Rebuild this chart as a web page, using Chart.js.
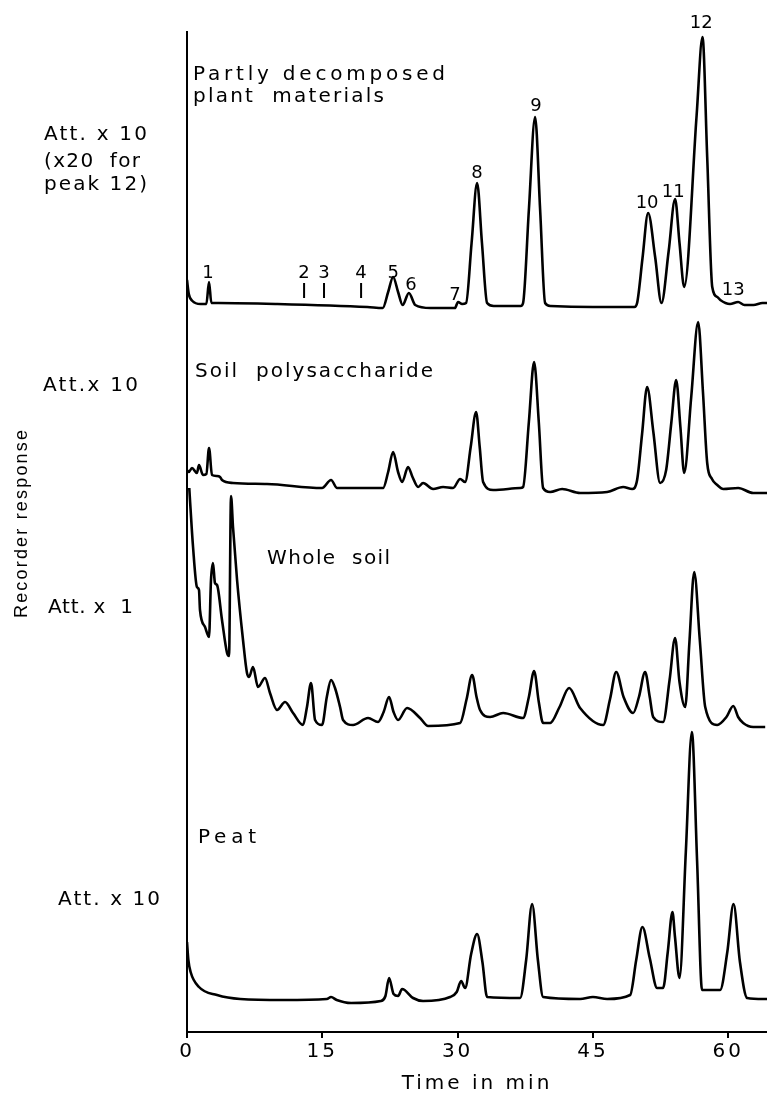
<!DOCTYPE html>
<html>
<head>
<meta charset="utf-8">
<script src="https://cdn.jsdelivr.net/npm/chart.js@4/dist/chart.umd.min.js"></script>
<style>
  body { margin: 0; background: #fff; }
  canvas { display: block; }
</style>
</head>
<body>
<canvas id="chart" width="767" height="1094"></canvas>
<script>
// time axis (min) and recorder response
var plantTime = [0, 0.2, 0.6, 1.5, 2.15, 2.44, 2.7, 3.5, 10, 20, 21.7, 22.3, 22.85, 23.4, 23.9, 24.6, 25.3, 27, 29.7, 30.05, 30.5, 30.94, 31.55, 32.16, 32.7, 33.27, 34, 37.0, 37.26, 37.9, 38.59, 39.15, 39.7, 40.3, 45, 49.6, 49.9, 50.5, 51.12, 51.9, 52.6, 53.4, 54.11, 54.6, 55.12, 56.5, 57.15, 57.67, 58.23, 58.8, 59.12, 60.2, 61.1, 61.8, 62.8, 63.8, 64.3];
var plantResp = [752, 738, 731, 728, 728, 750, 729, 729, 728, 725, 724, 740, 755, 740, 727, 739, 727, 724, 724, 730, 728, 729, 789, 849, 789, 729, 726, 726, 729, 822, 915, 822, 729, 726, 725, 725, 729, 774, 819, 775, 729, 781, 833, 789, 745, 917, 995, 875, 745, 735, 732, 728, 730, 727, 727, 729, 729];

var soilPsTime = [0, 0.2, 0.55, 1.1, 1.33, 1.77, 2.15, 2.44, 2.77, 3.3, 3.66, 3.88, 5.1, 8.87, 14.97, 15.97, 16.64, 21.74, 22.3, 22.85, 23.4, 23.85, 24.51, 25.0, 25.62, 26.17, 27.28, 28.39, 29.5, 30.28, 30.83, 31.45, 32.05, 32.45, 32.83, 33.94, 36.93, 37.26, 37.9, 38.48, 39.0, 39.48, 40.26, 41.59, 43.58, 46.58, 48.35, 49.35, 49.9, 50.45, 51.01, 51.7, 52.45, 53.12, 53.7, 54.23, 54.7, 55.12, 55.9, 56.67, 57.2, 57.67, 58.2, 58.78, 59.45, 61.11, 62.77, 64.3];
var soilPsResp = [562, 560, 564, 559, 567, 557, 558, 584, 557, 556, 555, 552, 549, 548, 544, 552, 544, 544, 560, 580, 560, 550, 565, 555, 545, 549, 543, 545, 544, 553, 550, 585, 620, 585, 550, 542, 544, 545, 610, 670, 610, 544, 540, 543, 539, 540, 545, 543, 552, 598, 645, 600, 549, 562, 610, 652, 605, 559, 635, 710, 640, 569, 553, 547, 543, 544, 539, 539];

var wholeTime = [0.25, 0.67, 1.1, 1.33, 1.44, 2.0, 2.44, 2.66, 2.88, 3.1, 3.33, 3.88, 4.44, 4.66, 4.88, 5.1, 5.55, 6.21, 6.65, 6.88, 7.32, 7.87, 8.65, 9.2, 9.98, 10.87, 11.76, 12.86, 13.3, 13.75, 14.2, 14.97, 15.5, 15.97, 16.41, 16.97, 17.3, 18.41, 20.07, 21.18, 21.8, 22.4, 22.9, 23.4, 24.4, 25.84, 26.73, 30.28, 31.0, 31.61, 32.1, 32.49, 33.6, 35.05, 37.26, 37.9, 38.48, 39.0, 39.48, 40.26, 41.3, 42.36, 43.58, 46.14, 46.9, 47.58, 48.4, 49.46, 50.1, 50.79, 51.3, 51.68, 52.78, 53.5, 54.11, 54.6, 55.23, 55.7, 56.23, 56.85, 57.45, 58.78, 59.8, 60.56, 61.1, 61.66, 62.77, 64.1];
var wholeResp = [544, 485, 445, 442, 422, 405, 395, 452, 469, 449, 447, 412, 379, 376, 536, 505, 452, 392, 359, 355, 365, 345, 354, 339, 322, 330, 319, 307, 325, 349, 312, 307, 335, 352, 344, 325, 312, 307, 314, 310, 320, 335, 320, 312, 324, 314, 306, 309, 333, 357, 335, 322, 315, 319, 314, 335, 361, 330, 309, 309, 325, 344, 324, 307, 333, 360, 335, 319, 335, 360, 335, 315, 310, 352, 394, 350, 325, 390, 460, 392, 325, 307, 315, 326, 315, 309, 305, 305];

var peatTime = [0, 0.15, 0.4, 1.33, 3.33, 5.9, 10.7, 15.5, 15.97, 16.6, 18.2, 21.5, 22.0, 22.4, 22.9, 23.4, 23.85, 25.06, 26.17, 29.17, 29.9, 30.39, 30.83, 31.5, 32.16, 32.75, 33.27, 36.93, 37.6, 38.26, 38.9, 39.48, 43.58, 45.0, 46.58, 49.13, 49.8, 50.49, 51.3, 52.12, 52.78, 53.3, 53.82, 54.1, 54.6, 55.3, 55.97, 56.55, 57.1, 59.1, 59.9, 60.59, 61.3, 62.1, 63.88, 64.3];
var peatResp = [90, 72, 60, 45, 37, 33, 32, 33, 35, 32, 29, 31, 36, 54, 38, 36, 43, 34, 31, 35, 40, 51, 44, 78, 98, 70, 35, 34, 72, 128, 72, 35, 33, 35, 33, 37, 72, 105, 74, 44, 44, 80, 120, 95, 54, 180, 300, 171, 42, 42, 80, 128, 70, 34, 33, 33];

// peak numbers on the top trace, and where the small markers 2,3,4 sit
var peakNames = ['1', '2', '3', '4', '5', '6', '7', '8', '9', '10', '11', '12', '13'];
var peakTimes = [2.33, 12.98, 15.19, 19.3, 22.85, 24.84, 29.72, 32.16, 38.7, 51.01, 53.9, 57.0, 60.55];
var markerTimes = [12.98, 15.19, 19.3];

var timeTicks = [0, 15, 30, 45, 60];

// label layout (response units for the in-plot labels, pixels for the margin)
var peakLabelY = [759, 759, 759, 759, 759, 747, 737, 859, 926, 829, 840, 1009, 742];
var markerLow = 734, markerHigh = 749;

var traceTitles = [
    { text: 'Partly decomposed', t: 0.67, v: 957, w: 252 },
    { text: 'plant  materials', t: 0.67, v: 935, w: 191 },
    { text: 'Soil  polysaccharide', t: 0.89, v: 660, w: 238 },
    { text: 'Whole  soil', t: 8.87, v: 473, w: 123 },
    { text: 'Peat', t: 1.22, v: 194, w: 58 }
];
var marginLabels = [
    { text: 'Att. x 10', x: 44, y: 135, w: 103 },
    { text: '(x20  for', x: 44, y: 162, w: 96 },
    { text: 'peak 12)', x: 44, y: 185, w: 103 },
    { text: 'Att.x 10', x: 43, y: 386, w: 95 },
    { text: 'Att. x  1', x: 48, y: 608, w: 85 },
    { text: 'Att. x 10', x: 58, y: 900, w: 102 }
];

function toPoints(xs, ys) {
    return xs.map(function(x, i) {
        return { x: x, y: ys[i] };
    });
}

function markerPoints() {
    var pts = [];
    markerTimes.forEach(function(t) {
        pts.push({ x: t, y: markerLow });
        pts.push({ x: t, y: markerHigh });
        pts.push({ x: t, y: null });
    });
    return pts;
}

// draws text stretched to a given width (the original lettering is wide)
function fitText(ctx, text, x, y, width) {
    ctx.letterSpacing = '0px';
    var w = ctx.measureText(text).width;
    var sp = (width - w) / (text.length - 1);
    ctx.letterSpacing = sp.toFixed(2) + 'px';
    ctx.fillText(text, x, y);
    ctx.letterSpacing = '0px';
}

var labelPlugin = {
    id: 'chromLabels',
    beforeDraw: function(chart) {
        // wide spacing for the axis numbers and title
        chart.ctx.letterSpacing = '3px';
    },
    beforeDatasetsDraw: function(chart) {
        chart.ctx.letterSpacing = '0px';
    },
    afterDraw: function(chart) {
        var ctx = chart.ctx;
        var xs = chart.scales.x, ys = chart.scales.y;
        ctx.save();
        ctx.fillStyle = '#000';
        ctx.textBaseline = 'middle';

        ctx.font = '18px "DejaVu Sans"';
        ctx.textAlign = 'center';
        ctx.letterSpacing = '0px';
        peakNames.forEach(function(name, i) {
            ctx.fillText(name, xs.getPixelForValue(peakTimes[i]), ys.getPixelForValue(peakLabelY[i]));
        });

        ctx.font = '20px "DejaVu Sans"';
        ctx.textAlign = 'left';
        traceTitles.forEach(function(l) {
            fitText(ctx, l.text, xs.getPixelForValue(l.t), ys.getPixelForValue(l.v), l.w);
        });
        marginLabels.forEach(function(l) {
            fitText(ctx, l.text, l.x, l.y, l.w);
        });

        // y axis title
        ctx.font = '18px "Liberation Sans"';
        ctx.translate(22, 524);
        ctx.rotate(-Math.PI / 2);
        fitText(ctx, 'Recorder response', -94, 0, 188);
        ctx.restore();
    }
};

var lineStyle = {
    borderColor: '#000',
    borderWidth: 2.6,
    pointRadius: 0,
    fill: false,
    cubicInterpolationMode: 'monotone'
};

function trace(label, xs, ys) {
    return Object.assign({ label: label, data: toPoints(xs, ys) }, lineStyle);
}

new Chart(document.getElementById('chart'), {
    type: 'line',
    data: {
        datasets: [
            trace('Partly decomposed plant materials', plantTime, plantResp),
            trace('Soil polysaccharide', soilPsTime, soilPsResp),
            trace('Whole soil', wholeTime, wholeResp),
            trace('Peat', peatTime, peatResp),
            {
                label: 'markers',
                data: markerPoints(),
                borderColor: '#000',
                borderWidth: 2,
                pointRadius: 0,
                tension: 0,
                spanGaps: false
            }
        ]
    },
    options: {
        responsive: false,
        animation: false,
        layout: { padding: { top: 32, right: 0, bottom: 0, left: 0 } },
        plugins: {
            legend: { display: false },
            tooltip: { enabled: false }
        },
        scales: {
            x: {
                type: 'linear',
                min: 0,
                max: 64.3,
                afterFit: function(scale) { scale.height = 62; },
                afterBuildTicks: function(scale) {
                    scale.ticks = timeTicks.map(function(v) { return { value: v }; });
                },
                border: { color: '#000', width: 2 },
                grid: { drawOnChartArea: false, drawTicks: true, tickLength: 6, color: '#000', lineWidth: 2 },
                ticks: {
                    autoSkip: false,
                    maxRotation: 0,
                    color: '#000',
                    padding: 2,
                    font: { family: 'DejaVu Sans', size: 20 }
                },
                title: {
                    display: true,
                    text: 'Time in min',
                    color: '#000',
                    padding: 0,
                    font: { family: 'DejaVu Sans', size: 20, lineHeight: 1 }
                }
            },
            y: {
                min: 0,
                max: 1000,
                afterFit: function(scale) { scale.width = 187; },
                border: { color: '#000', width: 2 },
                grid: { display: false },
                ticks: { display: false }
            }
        }
    },
    plugins: [labelPlugin]
});
</script>
</body>
</html>
